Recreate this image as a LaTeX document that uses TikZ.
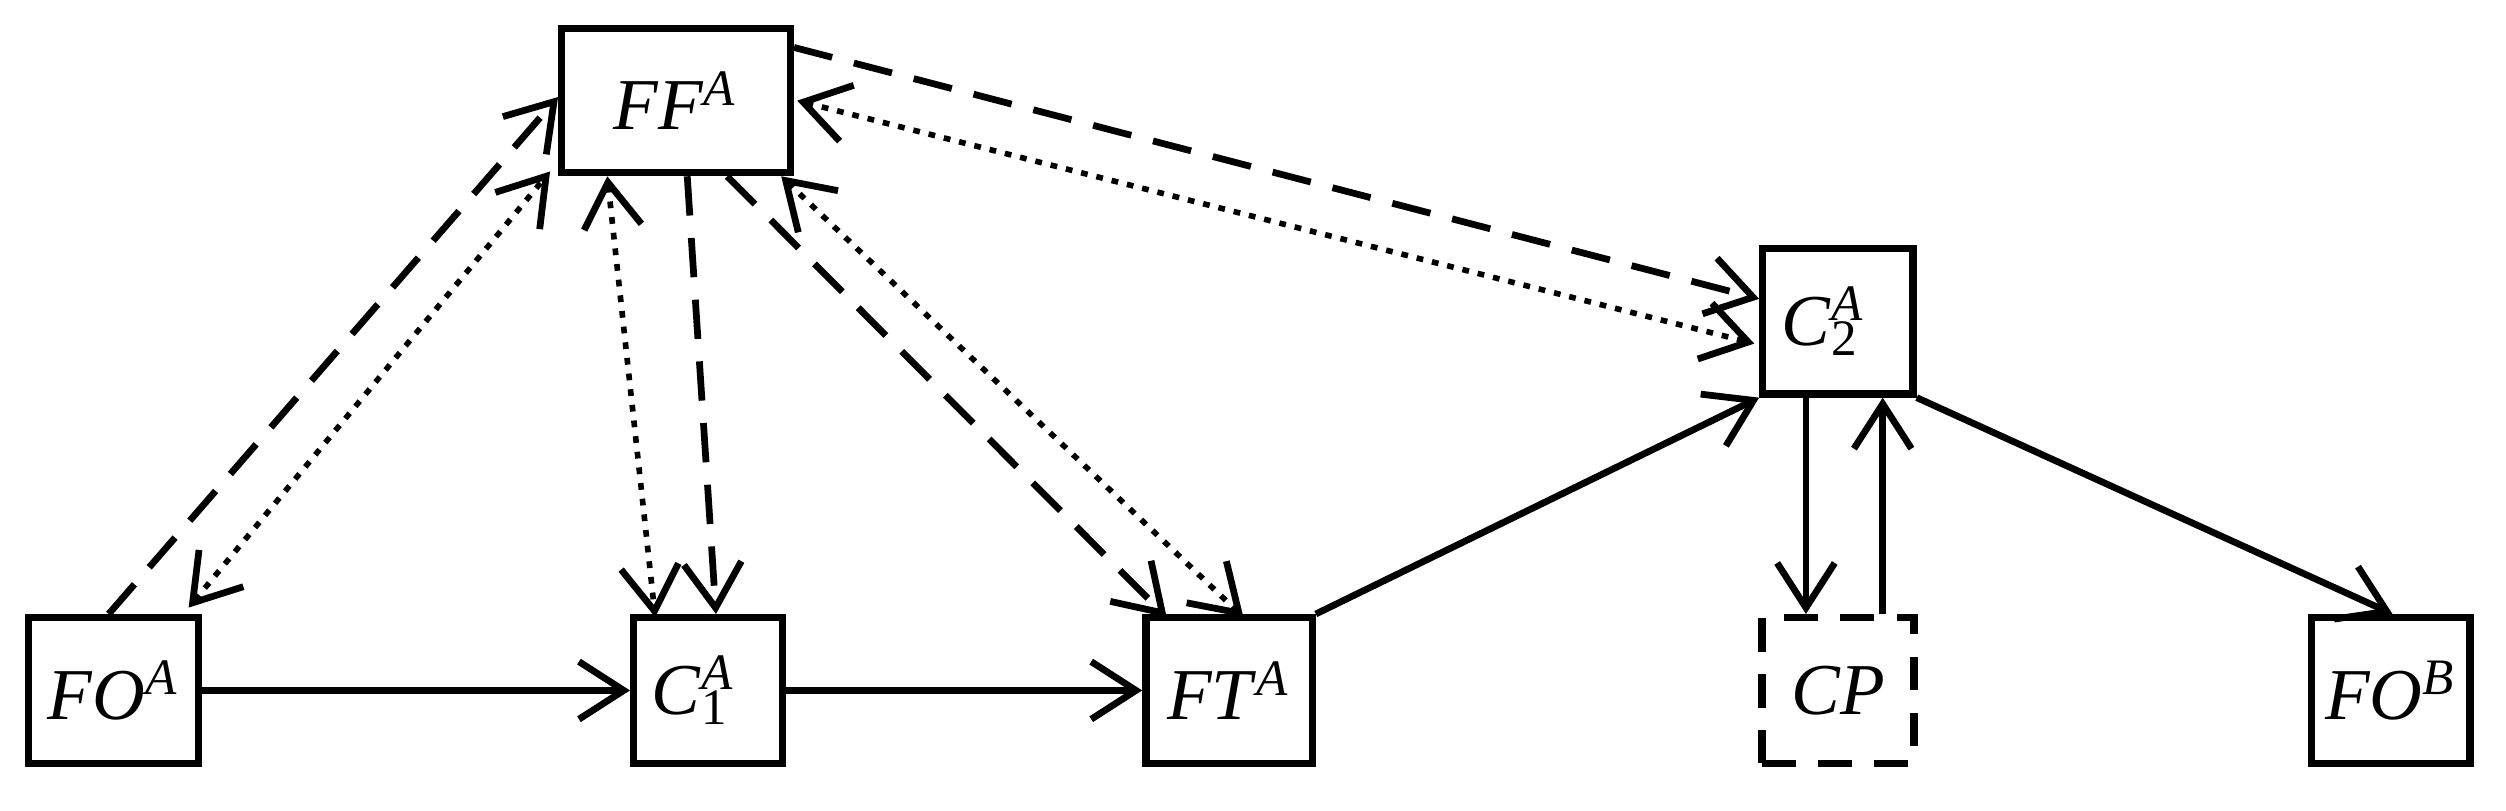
\documentclass[tikz,border=0pt]{standalone}
\usepackage{fontspec}
\setmainfont{Liberation Serif}
\usetikzlibrary{arrows.meta}
\newcommand{\lbl}[3]{\textit{#1}\rlap{\textsuperscript{\textit{#2}}}\textsubscript{#3}\hphantom{\textsuperscript{\textit{#2}}}}
\begin{document}
\begin{tikzpicture}[x=0.01cm,y=-0.01cm,
  box/.style={draw,line width=1.3pt,minimum height=0.91cm,inner sep=0pt,font=\fontsize{13}{15}\selectfont},
  ar/.style={line width=1.2pt,-{Straight Barb[length=0.28cm,width=0.36cm,line width=1.2pt]}},
  dar/.style={line width=1pt,{Straight Barb[length=0.28cm,width=0.36cm,line width=1.2pt]}-{Straight Barb[length=0.28cm,width=0.36cm,line width=1.2pt]},dash pattern=on 1.2pt off 1.6pt},
  da/.style={ar,dash pattern=on 7pt off 4pt}]
\useasboundingbox (0,0) rectangle (1568,507);
\node[box,minimum width=1.43cm,minimum height=0.9cm] (FF) at (423,63) {\textit{FF}\textsuperscript{\textit{A}}};
\node[box,minimum width=1.06cm] (FOA) at (71,432) {\textit{FO}\textsuperscript{\textit{A}}};
\node[box,minimum width=0.93cm] (C1) at (443,432) {\lbl{C}{A}{1}};
\node[box,minimum width=1.04cm] (FT) at (769,432) {\textit{FT}\textsuperscript{\textit{A}}};
\node[box,minimum width=0.94cm] (C2) at (1150,201) {\lbl{C}{A}{2}};
\node[box,minimum width=0.95cm,dash pattern=on 6pt off 4pt] (CP) at (1150,432) {\textit{CP}};
\node[box,minimum width=0.99cm] (FOB) at (1496,432) {\textit{FO}\textsuperscript{\textit{B}}};
% solid
\draw[ar] (FOA.east) -- (C1.west);
\draw[ar] (C1.east) -- (FT.west);
\draw[ar] (FT.north east) -- (C2.south west);
\draw[ar] ([xshift=-0.2cm]C2.south) -- ([xshift=-0.2cm]CP.north);
\draw[ar] ([xshift=0.28cm]CP.north) -- ([xshift=0.28cm]C2.south);
\draw[ar] (C2.south east) -- ([xshift=0.01cm]FOB.north);
% dashed and dotted
\draw[da] ([xshift=-0.03cm]FOA.north) -- ([yshift=-0.45cm]FF.north west);
\draw[dar] ([xshift=0.47cm,yshift=0.04cm]FOA.north) -- ([xshift=-0.05cm,yshift=0.03cm]FF.south west);
\draw[da] ([xshift=0.07cm]FF.south) -- ([xshift=0.05cm]C1.north);
\draw[dar] ([xshift=-0.43cm]FF.south) -- ([xshift=-0.33cm,yshift=-0.02cm]C1.north);
\draw[da] ([xshift=0.32cm]FF.south) -- ([xshift=-0.39cm,yshift=-0.02cm]FT.north);
\draw[dar] ([xshift=-0.08cm]FF.south east) -- ([xshift=0.09cm,yshift=-0.02cm]FT.north);
\draw[da] ([yshift=-0.14cm]FF.north east) -- ([yshift=0.14cm]C2.west);
\draw[dar] ([xshift=0.02cm]FF.east) -- ([xshift=-0.03cm,yshift=-0.14cm]C2.west);
\end{tikzpicture}
\end{document}
